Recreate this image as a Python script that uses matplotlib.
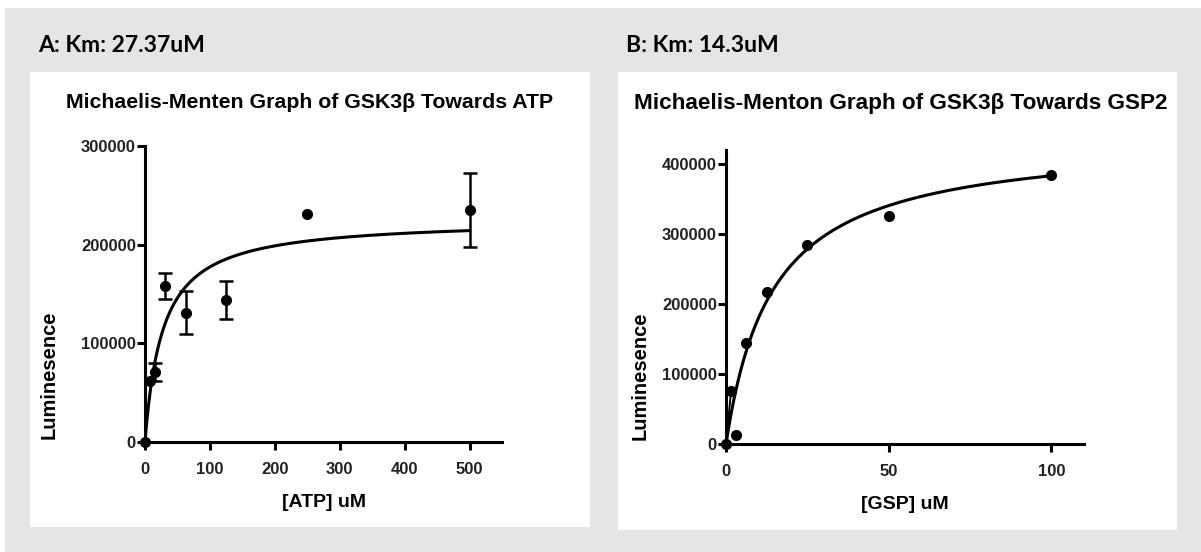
import matplotlib
matplotlib.use("Agg")
import matplotlib.pyplot as plt
from matplotlib.patches import Rectangle
from matplotlib import font_manager
import numpy as np

# panel A: ATP
atp_conc = [0, 7.8, 15.6, 31.25, 62.5, 125, 250, 500]
atp_lum = [0, 62000, 71000, 158000, 131000, 144000, 231000, 235000]
atp_err = [0, 0, 9500, 13500, 22000, 19000, 0, 37500]
atp_km = 27.37
atp_vmax = 226000

# panel B: GSP2
gsp_conc = [0, 1.56, 3.125, 6.25, 12.5, 25, 50, 100]
gsp_lum = [0, 76000, 13000, 145000, 217000, 284000, 326000, 385000]
gsp_km = 14.3
gsp_vmax = 438000

names = {f.name for f in font_manager.fontManager.ttflist}
chart_font = ["Liberation Sans Narrow"] if "Liberation Sans Narrow" in names else []
chart_font += ["Liberation Sans", "DejaVu Sans"]
head_font = ["Lato", "DejaVu Sans"]

W, H = 1201, 552
fig = plt.figure(figsize=(W / 100, H / 100), dpi=100, facecolor="white")


def px_rect(x0, y0, x1, y1, color, z):
    fig.patches.append(Rectangle((x0 / W, 1 - y1 / H), (x1 - x0) / W, (y1 - y0) / H,
                                 transform=fig.transFigure, facecolor=color,
                                 edgecolor="none", zorder=z))


def px_text(x, y, s, **kw):
    fig.text(x / W, 1 - y / H, s, **kw)


px_rect(5, 8, W, H, "#e5e5e5", -3)
px_rect(30, 72, 590, 527, "white", -2)
px_rect(618, 72, 1177, 530, "white", -2)

px_text(38, 46, "A: Km: 27.37uM", family=head_font, weight="bold",
        fontsize=16.5, va="center", ha="left")
px_text(626, 46, "B: Km: 14.3uM", family=head_font, weight="bold",
        fontsize=16.5, va="center", ha="left")


def style_axes(ax):
    for s in ["top", "right"]:
        ax.spines[s].set_visible(False)
    for s in ["left", "bottom"]:
        ax.spines[s].set_linewidth(2.2)
        ax.spines[s].set_color("black")
    ax.tick_params(direction="out", length=5.5, width=2.2, colors="black")
    ax.tick_params(axis="x", pad=9)
    ax.tick_params(axis="y", pad=1)
    ax.patch.set_alpha(0)
    for lab in ax.get_xticklabels() + ax.get_yticklabels():
        lab.set_family(chart_font)
        lab.set_fontweight("bold")
        lab.set_fontsize(12)
        lab.set_color("#222222")


# ---- A ----
axA = fig.add_axes([145 / W, 1 - 442 / H, 357 / W, 296 / H])
xs = np.linspace(0, 500, 400)
axA.plot(xs, atp_vmax * xs / (atp_km + xs), color="black", lw=2.2)
axA.plot(atp_conc, atp_lum, "o", color="black", ms=7, clip_on=False, zorder=5)
has_err = [e > 0 for e in atp_err]
axA.errorbar([c for c, h in zip(atp_conc, has_err) if h],
             [v for v, h in zip(atp_lum, has_err) if h],
             yerr=[e for e, h in zip(atp_err, has_err) if h], fmt="none",
             ecolor="black", elinewidth=1.8, capsize=5, capthick=1.8, zorder=4)
axA.set_xlim(0, 550)
axA.set_ylim(0, 300000)
axA.set_xticks([0, 100, 200, 300, 400, 500])
axA.set_yticks([0, 100000, 200000, 300000])
axA.set_xlabel("[ATP] uM", family=chart_font, weight="bold", fontsize=14, labelpad=12)
style_axes(axA)
px_text(49, 375, "Luminesence", family=chart_font, weight="bold", fontsize=14.5,
        rotation=90, ha="center", va="center")
px_text(310, 103, "Michaelis-Menten Graph of GSK3β Towards ATP",
        family=chart_font, weight="bold", fontsize=15.3, ha="center", va="center")

# ---- B ----
axB = fig.add_axes([726 / W, 1 - 444 / H, 358 / W, 294 / H])
xs = np.linspace(0, 100, 400)
axB.plot(xs, gsp_vmax * xs / (gsp_km + xs), color="black", lw=2.2)
# thin stray segment from the origin to the first point, as in the original
axB.plot(gsp_conc[:2], gsp_lum[:2], color="black", lw=1.4)
axB.plot(gsp_conc, gsp_lum, "o", color="black", ms=7, clip_on=False, zorder=5)
axB.set_xlim(0, 110)
axB.set_ylim(0, 420000)
axB.set_xticks([0, 50, 100])
axB.set_yticks([0, 100000, 200000, 300000, 400000])
axB.set_xlabel("[GSP] uM", family=chart_font, weight="bold", fontsize=14, labelpad=12)
style_axes(axB)
px_text(640, 376, "Luminesence", family=chart_font, weight="bold", fontsize=14.5,
        rotation=90, ha="center", va="center")
px_text(901, 103, "Michaelis-Menton Graph of GSK3β Towards GSP2",
        family=chart_font, weight="bold", fontsize=16.2, ha="center", va="center")

fig.savefig("out.png", dpi=100, facecolor=fig.get_facecolor())
